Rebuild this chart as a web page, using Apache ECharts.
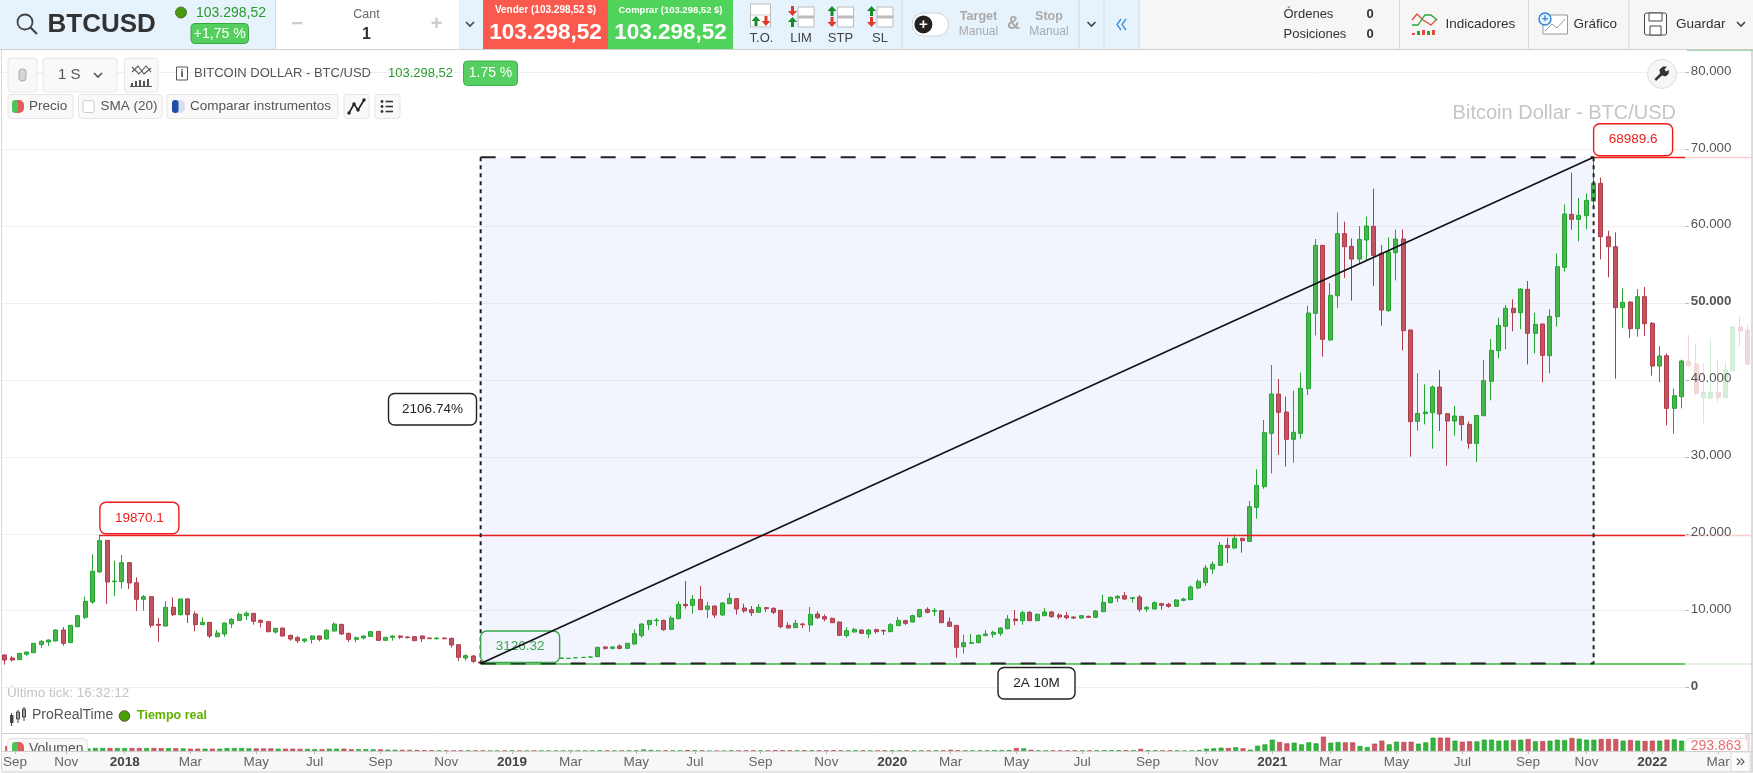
<!DOCTYPE html>
<html><head><meta charset="utf-8">
<style>html,body{margin:0;padding:0;background:#fff;overflow:hidden}#c{width:1753px;height:773px}</style>
<script src="https://cdn.jsdelivr.net/npm/echarts@6/dist/echarts.min.js"></script>
</head><body><div id="c"></div>
<script>
// weekly candles: [open, high, low, close]
const candles2017_18 = [[4227,4314,2969,3577],[3837,4097,3403,3577],[3620,4487,3577,4444],[4314,4661,4140,4617],[4530,5788,4487,5745],[5572,6179,5138,6005],[5918,6265,5398,6179],[6049,7566,6005,7480],[7480,7870,5441,5745],[5832,8130,5788,8087],[7913,9431,7827,9345],[9128,11817,8911,11210],[11123,17325,10863,15113],[15026,19870.1,14939,19103],[19146,19190,10863,13725],[13768,16501,11903,13855],[13768,17238,12858,16240],[16240,16327,12814,13595],[13638,14332,9952,11470],[11470,12034,9995,11817],[11817,11860,7783,8087],[8218,9041,5962,8087],[8000,11210,7957,10429],[10429,11730,9301,9475],[9475,11557,9388,11513],[11513,11643,8391,9475],[9561,9908,7306,8174],[8174,9128,8130,8477],[8477,8521,6439,6699],[6612,7480,6526,7090],[6959,8434,6612,8391],[8261,9041,7740,8868],[8738,9735,8651,9518],[9345,9908,8781,9648],[9648,9692,8174,8608],[8738,8868,7827,8477],[8564,8608,7176,7263],[7220,7740,7003,7697],[7740,7783,6612,6699],[6786,6873,6092,6309],[6482,6699,5788,6092],[6049,6395,5832,6309],[6265,6786,5701,6699],[6699,6786,6005,6265],[6309,7610,6265,7437],[7350,8477,7263,8261],[8218,8261,6873,6959],[7046,7133,5918,6265],[6265,6612,5875,6482],[6439,6829,6265,6699],[6656,7350,6569,7263],[7306,7350,6049,6135],[6135,6569,6092,6526],[6526,6786,6092,6699],[6699,6786,6309,6526],[6569,6656,6395,6482],[6612,6699,6049,6092],[6699,6786,5918,6352],[6439,6482,6309,6352],[6352,6482,6222,6439],[6439,6482,6265,6352],[6395,6482,5181,5528],[5572,5615,3447,3924],[3837,4314,3490,4140],[4097,4227,3187,3403]];
const candles2019 = [[3316,3577,3126.32,3187],[3190,3700,3170,3600],[3600,4100,3550,3950],[3950,4050,3500,3650],[3650,4050,3600,3950],[3950,4000,3500,3580],[3560,3700,3450,3620],[3620,3650,3400,3500],[3500,3700,3450,3650],[3620,3780,3550,3700],[3700,3900,3650,3780],[3780,3870,3740,3837],[3780,3815,3770,3800],[3860,3900,3850,3880],[3905,3940,3890,3924],[3950,3985,3935,3967],[4010,5312,3967,5225],[5268,5355,4921,5095],[5095,5355,4965,5268],[5399,5615,4965,5095],[5095,5789,5051,5745],[5658,7567,5572,7003],[6743,8348,6483,8261],[8174,8781,7480,8738],[8695,9042,8000,8781],[8738,8825,7393,7523],[7567,9345,7523,9042],[8955,11210,8868,10820],[10820,13855,10256,10646],[10690,12034,9605,11470],[11470,13205,10083,10126],[10169,11123,9042,10603],[10603,10646,9042,9432],[9432,11080,9345,10993],[10906,12294,10863,11600],[11557,11644,9475,10212],[10343,10906,9735,9952],[10126,10603,9302,9735],[9779,10863,9692,10429],[10386,10473,9822,10256],[10299,10429,9562,9779],[10039,10083,7697,7914],[8087,8478,7697,7741],[7784,8781,7741,8348],[8261,8391,7741,8174],[8131,10473,7263,9519],[9562,9909,8911,9085],[9215,9519,8608,8911],[8998,9085,8391,8434],[8521,8564,6700,6786],[6743,7827,6483,7393],[7220,7741,7133,7567],[7480,7567,7003,7046],[6960,7610,6439,7480],[7523,7654,7003,7263]];
const candles2020 = [[7437,7480,6830,7350],[7263,8391,7220,8174],[8044,9172,8000,8738],[8695,8825,8131,8348],[8521,9475,8478,9345],[9215,10212,9085,10126],[10169,10429,9649,9779],[9909,10343,9302,10039],[9996,10083,8391,8434],[8521,9128,7914,7957],[8087,8131,3881,5225],[5312,6873,4401,5832],[5745,6960,5702,5832],[5832,6916,5789,6786],[6741,7479,6698,6958],[6915,7392,6481,7175],[7045,7826,6698,7739],[7652,9430,7565,8910],[8910,10081,8086,8693],[8693,9994,8173,9734],[9777,9951,8650,8693],[8693,9647,8650,9517],[9344,10341,9257,9821],[9821,9951,9084,9214],[9430,9647,8867,9170],[9344,9821,8867,9084],[9170,9257,8910,9040],[9040,9430,8953,9344],[9257,9344,9040,9127],[9127,10081,9040,9951],[9864,12076,9821,11079],[11035,11859,10948,11729],[11642,12033,11122,11859],[11946,12423,11382,11512],[11599,11772,11035,11686],[11772,12033,9821,10168],[10211,10601,9864,10428],[10211,11208,10168,11035],[10905,11035,10125,10688],[10818,11035,10385,10558],[10558,11512,10471,11382],[11339,11686,11208,11512],[11425,13291,11382,13074],[12943,14071,12770,13811],[13639,15936,13204,15546],[15416,16413,14765,16023],[15892,18928,15849,18494],[18494,19492,16196,18191],[18147,19926,18061,19405],[19405,19492,17540,19102],[19015,24263,18928,23526],[23439,28383,21964,26301],[26128,34802,25868,33154]];
const candles2021 = [[33064,41955,27860,38182],[38182,40134,30246,35797],[35840,37835,28727,32284],[32284,38616,29248,33195],[33064,40971,32371,38919],[38876,49675,38052,48721],[48678,58349,45815,57525],[57525,57568,43040,45295],[45208,52624,45121,51020],[50976,61819,49372,59043],[59043,60604,53275,57352],[57395,58436,50326,55747],[55747,60041,55097,58306],[58219,61255,55530,60041],[59997,64898,52234,56224],[56484,57568,47073,49111],[49025,58566,48895,56658],[56571,59564,52972,58349],[58349,59607,43864,46422],[46509,46596,30029,34582],[34626,40871,33411,35667],[35623,39440,34235,35840],[35753,39310,31069,39093],[39093,41305,33368,35580],[35623,35667,28857,34669],[34669,36621,32761,35320],[35276,35320,32112,34192],[34235,34626,31069,31763],[31763,35450,29335,35406],[35363,42606,35276,39917],[39830,45338,37358,43864],[43821,48114,42823,47116],[46985,49762,43993,49328],[49328,50499,46335,48764],[48764,51930,46596,51843],[51800,52885,42042,46075],[46075,48764,43473,47247],[47290,47333,39700,43213],[43170,49198,40871,48287],[48244,56484,46943,54749],[54662,62860,54099,61602],[61559,66980,59563,60908],[60908,63683,58045,61428],[61385,64291,59607,63380],[63293,68989.6,62469,65592],[65592,66329,55703,58653],[58653,59433,53362,57352],[57352,59216,40177,49415],[49415,51930,46813,50109],[50152,50239,45512,46683],[46683,51843,45642,50846]];
const candles2022 = [[50846,52104,45729,47333],[47376,47549,40568,41826],[41826,44427,39700,43127],[43170,43473,34106,36317],[36317,38876,33022,37966],[37835,42649,36317,42476],[42433,45859,41738,41912],[42085,44774,38051,38268],[37705,42172,34366,38399],[37618,45295,37488,38399],[38399,42606,37185,37748],[37705,42302,37618,41305],[41218,46943,41175,46900],[46900,48244,44341,46379],[46509,47159,41955,42085]];
// weekly volume, thousands
const volumes = [80,45,40,40,40,40,40,40,40,40,40,40,49,49,49,49,49,49,49,49,49,46,46,46,42,38,38,38,38,38,49,49,49,42,42,42,42,38,38,38,35,35,30,30,38,38,38,30,30,30,27,27,22,20,18,18,16,12,10,10,6,6,8,8,6,6,5,4,4,4,4,4,4,4,4,4,4,4,4,6,8,10,8,5,6,8,10,25,16,8,10,8,6,14,12,10,0,0,0,8,8,10,10,8,8,12,12,10,10,12,12,10,8,12,8,10,10,10,8,8,10,10,8,10,8,8,6,8,10,20,12,10,8,10,10,15,15,15,49,43,20,10,8,8,8,10,10,10,10,10,12,12,12,12,12,35,12,12,10,10,10,5,5,16,38,44,54,49,60,44,22,87,109,185,147,125,136,109,141,125,234,136,147,141,141,82,65,120,169,109,152,147,152,120,141,218,218,218,169,152,158,158,185,185,169,174,180,185,196,158,163,169,185,180,212,201,185,185,196,196,196,169,180,169,163,169,169,185,190,169,180,185,175,170,165,170,175,180,293.863];
// price axis
const priceMin = 0, priceMax = 80000, priceStep = 10000;
// time axis labels
const tickIndex = [1,8,16,25,34,42,51,60,69,77,86,94,103,112,121,129,138,147,156,164,173,181,190,199,208,216,225,234];
const tickLabels = ['Sep','Nov','2018','Mar','May','Jul','Sep','Nov','2019','Mar','May','Jul','Sep','Nov','2020','Mar','May','Jul','Sep','Nov','2021','Mar','May','Jul','Sep','Nov','2022','Mar'];
// annotations
const lowIndex = 65, lowPrice = 3126.32;
const highIndex = 217, highPrice = 68989.6;
const peak2017Index = 13, peak2017Price = 19870.1;
const measurePct = '2106.74%', measureSpan = '2A 10M';

const ohlc = [].concat(candles2017_18, candles2019, candles2020, candles2021, candles2022);
const categories = ohlc.map((_, i) => String(i));
const FONT = '"Liberation Sans",Arial,sans-serif';
const GREEN='#44b84d',GREENB='#25a530',RED='#c05460',REDB='#b03c4a';

const chart = echarts.init(document.getElementById('c'));

// page furniture
const g = [];
function R(x,y,w,h,fill,stroke,r,z,lw){g.push({type:'rect',silent:true,z:z==null?20:z,shape:{x,y,width:w,height:h,r:r||0},style:{fill:fill||'none',stroke:stroke||'none',lineWidth:lw||1}});}
function T(x,y,text,font,fill,align,z){g.push({type:'text',silent:true,z:z==null?21:z,x,y,style:{text,font:font+' '+FONT,fill,align:align||'left',verticalAlign:'middle'}});}
function L(pts,stroke,lw,z){g.push({type:'polyline',silent:true,z:z==null?21:z,shape:{points:pts},style:{stroke,lineWidth:lw||1,fill:'none'}});}
function P(pts,fill,z){g.push({type:'polygon',silent:true,z:z==null?21:z,shape:{points:pts},style:{fill}});}
function C(cx,cy,r,fill,stroke,z,lw){g.push({type:'circle',silent:true,z:z==null?21:z,shape:{cx,cy,r},style:{fill:fill||'none',stroke:stroke||'none',lineWidth:lw||1}});}
function chev(x,y,col){L([[x-4,y-2],[x,y+2],[x+4,y-2]],col||'#333',1.6);}
function arrow(x,y,up,col){ if(up)P([[x,y-5],[x+4.5,y],[x+1.5,y],[x+1.5,y+5],[x-1.5,y+5],[x-1.5,y],[x-4.5,y]],col); else P([[x,y+5],[x+4.5,y],[x+1.5,y],[x+1.5,y-5],[x-1.5,y-5],[x-1.5,y],[x-4.5,y]],col);}

// veil over the projection zone, below axis labels
R(1685,50,68,702,'rgba(255,255,255,0.78)',null,0,5);
// frame
L([[0,733.5],[1753,733.5]],'#cfcfcf',1,6);
// header
R(0,0,276,49,'#e6f2fc');
R(276,0,183,49,'#ffffff');
R(459,0,24,49,'#e6f2fc');
R(483,0,125,49,'#fa5a4e');
R(608,0,125,49,'#50d35a');
R(733,0,406,49,'#e6f2fc');
R(1139,0,614,49,'#f6f6f6');
L([[0,49.5],[1753,49.5]],'#cfcfcf');
L([[1687,50.5],[1753,50.5]],'#9fd8a4');
[275.5,902,1079,1104,1139,1399.5,1528.5,1629].forEach(x=>L([[x,0],[x,49]],'#d8d8d8'));
C(25,22,7.5,null,'#444',21,1.8); L([[30.5,27.5],[37,34]],'#444',2.2);
T(47.5,24.5,'BTCUSD','bold 26px','#333');
C(181,12.5,5.5,'#4a9a10','#55703a');
T(196,13,'103.298,52','14px','#2a9a2a');
R(191,23.5,57.5,20,'#55d060','#38a844',4);
T(219.7,34,'+1,75 %','14px','#fff','center');
T(366.5,15,'Cant','12.5px','#666','center');
T(366.5,34.5,'1','bold 16px','#333','center');
T(297,24.5,'−','bold 20px','#ccc','center');
T(436.5,24.5,'+','bold 20px','#ccc','center');
chev(470,24,'#444');
T(545.5,10.5,'Vender (103.298,52 $)','bold 10px','#fff','center');
T(545.5,32.5,'103.298,52','bold 22.5px','#fff','center');
T(670.5,10.5,'Comprar (103.298,52 $)','bold 9.5px','#fff','center');
T(670.5,32.5,'103.298,52','bold 22.5px','#fff','center');
// order icons
const iG='#1a8a2a', iR='#e03a2e';
R(750.5,4,20,23,'#fff','#bbb'); arrow(756,21,true,iG); arrow(766,21,false,iR); L([[751,15],[770,15]],'#ccc');
T(761.5,38.5,'T.O.','13px','#444','center');
[[789,'LIM',false],[828.5,'STP',true],[868,'SL',true]].forEach(([x,t,upTop],i)=>{
  R(x+9,7,16,20,'#fff','#bbb'); g.push({type:'rect',silent:true,z:21,shape:{x:x+9,y:15.5,width:16,height:3},style:{fill:'#bbb'}});
  if(i===0){arrow(x+3.5,11,false,iR);arrow(x+3.5,22,true,iG);}
  else if(i===1){arrow(x+3.5,11,true,iG);arrow(x+3.5,22,false,iR);}
  else {arrow(x+3.5,11,true,iG);arrow(x+3.5,22,false,iR);}
  T(x+12,38.5,t,'13px','#444','center');
});
R(912,13,36.5,23,'#fff','#c8d4de',11.5);
C(923.4,24.4,9,'#222');
T(923.4,24.5,'+','bold 15px','#fff','center',22);
T(978.5,17,'Target','bold 12.5px','#aaa','center'); T(978.5,31.5,'Manual','12px','#aaa','center');
T(1013.6,24.5,'&','bold 18px','#aaa','center');
T(1049,17,'Stop','bold 12.5px','#aaa','center'); T(1049,31.5,'Manual','12px','#aaa','center');
chev(1091.5,24,'#444');
L([[1121,19],[1117,24.5],[1121,30]],'#3b8fe0',1.3); L([[1126,19],[1122,24.5],[1126,30]],'#3b8fe0',1.3);
T(1283.5,14.5,'Órdenes','13px','#333'); T(1283.5,34.5,'Posiciones','13px','#333');
T(1370,14.5,'0','bold 13px','#333','center'); T(1370,34.5,'0','bold 13px','#333','center');
// Indicadores icon
L([[1412,20],[1417,14],[1423,20],[1431,25],[1437,19]],'#e24a3a',1.3);
L([[1412,25],[1418,25],[1425,15],[1431,15],[1437,20]],'#2aa53a',1.3);
[[1412,33,3,'#e24a3a'],[1417,31,3,'#2aa53a'],[1422,30,3,'#e24a3a'],[1427,31,3,'#2aa53a'],[1432,30,3,'#e24a3a']].forEach(b=>R(b[0],b[1],b[2],35-b[1],b[3]));
T(1445.5,24.5,'Indicadores','13.5px','#333');
R(1543,15,24.5,19,'#fff','#999'); L([[1545,31],[1552,24],[1557,28],[1565,19]],'#999');
C(1545,19,6,'#e6f2fc','#2b86d8',21,1.4); T(1545,19,'+','bold 11px','#2b86d8','center',22);
T(1573.5,24.5,'Gráfico','13.5px','#333');
R(1644.5,13,22,22,'#fff','#444',2); R(1649,13,13,8,'#fff','#444'); R(1650,26,11,9,'#fff','#444');
T(1676,24.5,'Guardar','13.5px','#333');
chev(1741,24,'#444');
// pane toolbar
const btn=(x,w,y,h)=>R(x,y,w,h,'#f9f9f9','#e6e6e6',3,20);
btn(8,29,58,34); btn(43,74,58,34); btn(124.5,33.5,58,34);
g.push({type:'rect',silent:true,z:21,shape:{x:19,y:69,width:7,height:12,r:3},style:{fill:'#d5d5d5',stroke:'#aaa'}});
T(58,75,'1 S','15px','#555'); chev(98,75,'#555');
L([[132,72],[138,66],[144,74],[151,68]],'#555',1.1); L([[132,67],[139,74],[146,66],[151,72]],'#555',1.1);
[[131,83,2],[135,81,2],[139,80,2],[143,81,2],[147,79,2]].forEach(b=>R(b[0],b[1],b[2],86-b[1],'#555'));
L([[130,86.5],[152,86.5]],'#555');
R(176.5,67,11,13,'#fff','#555'); T(182,73.5,'i','bold 11px','#444','center');
T(194,73.5,'BITCOIN DOLLAR - BTC/USD','13px','#555');
T(388,73.5,'103.298,52','13px','#2a9a2a');
R(463.5,61,54,24.5,'#55d060','#3cb04a',4);
T(490.5,73.5,'1.75 %','14px','#fff','center');
btn(8,65,94.5,24); btn(78.5,83.5,94.5,24); btn(167,171,94.5,24); btn(344,25,94.5,24); btn(375,25,94.5,24);
R(12,100,12,13,'#e45a5a',null,5); R(12,100,6,13,'#4cc45a',null,3);
T(29,106.5,'Precio','13.5px','#555');
R(83,100.5,11,12,'#fff','#ccc',2);
T(100.5,106.5,'SMA (20)','13.5px','#555');
R(172,100,13,13,'#d8dff0',null,5); R(172,100,6.5,13,'#1f4ea8',null,3);
T(190,106.5,'Comparar instrumentos','13.5px','#555');
L([[349,113],[354,104],[358,110],[364,100]],'#222',1.6);
[[349,113],[354,104],[358,110],[364,100]].forEach(p=>C(p[0],p[1],1.7,'#222'));
[101.5,106.5,111.5].forEach(y=>{C(382,y,1.4,'#333');L([[385.5,y],[393,y]],'#333',1.6);});
// wrench
C(1662,74,14.5,'#f6f6f6','#ddd',22);
P([[1656,81],[1654.5,79],[1660,73.5],[1659.5,69.5],[1663,66.5],[1667,66.5],[1664.5,69.5],[1666,71.5],[1669,70],[1668.5,74],[1665.5,76.5],[1662,75.5]],'#333',23);
// title
T(1676,113,'Bitcoin Dollar - BTC/USD','20px','#c6c6c6','right');
// bottom info
T(7,693,'Último tick: 16:32:12','13.5px','#c4c4c4');
L([[11.5,713],[11.5,726]],'#444',1); R(10,715,3.5,8,'#444');
L([[18,710],[18,723]],'#444',1); R(16.5,712,3,7,'#fff','#444');
L([[24,707],[24,721]],'#444',1); R(22.5,709,3,8,'#fff','#444');
T(32,715.5,'ProRealTime','14px','#555');
C(124.5,716,5.3,'#4aa000','#555');
T(137,716,'Tiempo real','bold 12.5px','#5fb000');
// volume pane
R(7.5,738.5,80,20,'#f8f8f8','#e2e2e2',4,7);
R(12,742,12,14,'#e45a5a',null,5,8); R(12,742,6,14,'#4cc45a',null,3,8);
T(29,749,'Volumen','14px','#555','left',8);
R(1685.5,738.5,62,20,'#fdfdfd','#e6e6e6',4,7);
T(1716,746.5,'293.863','14px','#e87070','center',8);
// time band
R(0,751,1753,21,'#f7f7f7',null,0,9);
L([[0,751.5],[1753,751.5]],'#cfcfcf',1,9);
L([[0,772],[1753,772]],'#cfcfcf',1,9);
R(1731,752,19,19.5,'#fbfbfb','#ddd',0,17);
T(1740.5,761.5,'»','17px','#555','center',18);
// frame on top of everything at the edges
R(0,50,2,723,'#ffffff',null,0,16);
L([[1.5,50],[1.5,772]],'#d8d8d8',1,17);
L([[1752,50],[1752,772]],'#cfcfcf',1.5,17);

const fmt = v => v === 0 ? '{b|0}' : (v === 50000 ? '{b|50.000}' : (v / 1000) + '.000');

function annotationsOver(params, api){
  const cs = params.coordSys;
  const lo = api.coord([lowIndex, lowPrice]), hi = api.coord([highIndex, highPrice]);
  const pk = api.coord([peak2017Index, peak2017Price]);
  const right = cs.x + cs.width;
  const ln=(x1,y1,x2,y2,stroke,w,dash)=>({type:'line',shape:{x1,y1,x2,y2},style:{stroke,lineWidth:w,lineDash:dash||null,fill:null}});
  const box=(x,y,w,h,fill,stroke,txt,col)=>[
    {type:'rect',shape:{x,y,width:w,height:h,r:6},style:{fill,stroke,lineWidth:1.4}},
    {type:'text',x:x+w/2,y:y+h/2,style:{text:txt,font:'13.5px '+FONT,fill:col,align:'center',verticalAlign:'middle'}}];
  return {type:'group',children:[
    ln(pk[0],Math.round(pk[1])+.5,right,Math.round(pk[1])+.5,'#ee1c1c',1.3),
    ln(hi[0],Math.round(hi[1])+.5,right,Math.round(hi[1])+.5,'#ee1c1c',1.3),
    ln(lo[0],lo[1]+.5,right,lo[1]+.5,'#3cb83c',1.6),
    ln(lo[0],hi[1],hi[0],hi[1],'#222',2,[15,15]),
    ln(lo[0],lo[1],hi[0],lo[1],'#222',2,[15,15]),
    ln(lo[0],hi[1],lo[0],lo[1],'#222',2,[4,4]),
    ln(hi[0],hi[1],hi[0],lo[1],'#222',2,[4,4]),
    ...box(lo[0],lo[1]-32.5,79,31.5,'#f2f5fe','#3aa54a','3126.32','#3aa54a'),
    ln(lo[0],lo[1],hi[0],hi[1],'#111',1.6),
    ...box(pk[0],pk[1]-32.5,79,31.5,'#ffffff','#ee1c1c','19870.1','#ee1c1c'),
    ...box(hi[0],hi[1]-33.5,79,32,'#ffffff','#ee1c1c','68989.6','#ee1c1c'),
    ...box(388.5,393.5,88,31.5,'#ffffff','#222',measurePct,'#222'),
    ...box(998,667.5,77,31.5,'#ffffff','#222',measureSpan,'#222')
  ]};
}
function areaUnder(params, api){
  const lo = api.coord([lowIndex, lowPrice]), hi = api.coord([highIndex, highPrice]);
  return {type:'rect',shape:{x:lo[0],y:hi[1],width:hi[0]-lo[0],height:lo[1]-hi[1]},style:{fill:'rgba(205,216,250,0.25)'}};
}

chart.setOption({
  animation:false,
  backgroundColor:'#ffffff',
  graphic:{elements:g},
  grid:[
    {left:1.04,width:1750,top:72.6,height:614.9,containLabel:false},
    {left:1.04,width:1750,top:733,height:18,containLabel:false}
  ],
  xAxis:[
    {type:'category',gridIndex:0,data:categories,show:false},
    {type:'category',gridIndex:1,data:categories,z:15,
     axisLine:{show:false},
     axisTick:{show:true,length:3,alignWithLabel:true,interval:(i)=>tickIndex.includes(i),lineStyle:{color:'#bbb'}},
     axisLabel:{show:true,margin:4,interval:(i)=>tickIndex.includes(i),hideOverlap:false,
       formatter:(v,i)=>{const s=tickLabels[tickIndex.indexOf(+v)]||'';return /^\d/.test(s)?'{y|'+s+'}':s;},
       fontFamily:FONT,fontSize:13.5,color:'#666',
       rich:{y:{fontFamily:FONT,fontSize:13.5,fontWeight:'bold',color:'#444'}}}}
  ],
  yAxis:[
    {type:'value',gridIndex:0,position:'right',offset:-65.3,min:priceMin,max:priceMax,interval:priceStep,z:15,
     axisLine:{show:false},axisTick:{show:true,length:3,lineStyle:{color:'#aaa'}},
     axisLabel:{margin:5,padding:[0,0,3,0],formatter:fmt,fontFamily:FONT,fontSize:13.3,color:'#555',
       rich:{b:{fontFamily:FONT,fontSize:13.3,fontWeight:'bold',color:'#555'}}},
     splitLine:{show:false}},
    {type:'value',gridIndex:1,min:0,max:294,show:false,splitLine:{show:false}},
    {type:'value',gridIndex:0,position:'left',min:priceMin,max:priceMax,interval:priceStep,z:0,
     axisLine:{show:false},axisTick:{show:false},axisLabel:{show:false},
     splitLine:{show:true,lineStyle:{color:'#efefef',width:1}}}
  ],
  series:[
    {type:'custom',xAxisIndex:0,yAxisIndex:0,z:1,clip:false,silent:true,data:[[lowIndex,lowPrice]],renderItem:areaUnder},
    {type:'candlestick',xAxisIndex:0,yAxisIndex:0,z:2,barWidth:4.5,clip:false,silent:true,
     itemStyle:{color:GREEN,color0:RED,borderColor:GREENB,borderColor0:REDB,borderWidth:1},
     data:ohlc.map(r=>[r[0],r[3],r[2],r[1]])},
    {type:'custom',xAxisIndex:0,yAxisIndex:0,z:3,clip:false,silent:true,data:[[lowIndex,lowPrice]],renderItem:annotationsOver},
    {type:'bar',xAxisIndex:1,yAxisIndex:1,z:2,barWidth:5,silent:true,
     data:volumes.map((v,i)=>{const up=ohlc[i][3]>=ohlc[i][0];return {value:v,itemStyle:{color:up?'#34b43e':'#d05a64',borderColor:up?'#1f9e2b':'#b53b48',borderWidth:.6}};})}
  ]
});
</script></body></html>
